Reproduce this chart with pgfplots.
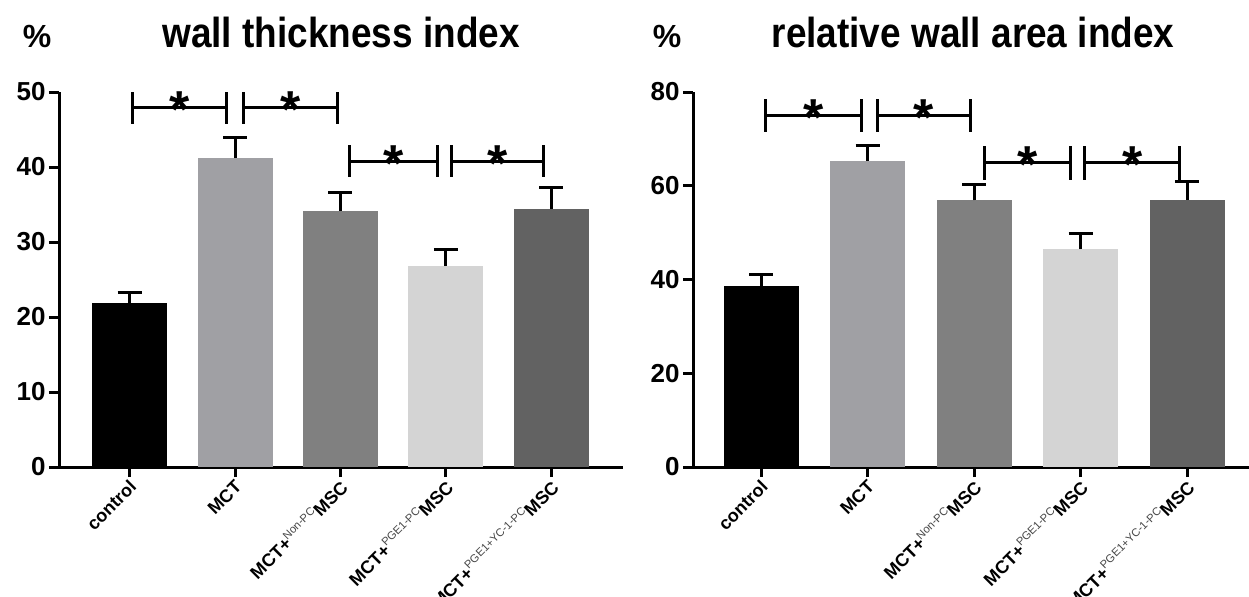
\documentclass[border=0pt]{standalone}
\usepackage{fontspec}
\setmainfont{Liberation Sans}
\newfontfamily\cf[FakeStretch=0.88]{Liberation Sans}
\usepackage{pgfplots}
\pgfplotsset{compat=1.18}

\definecolor{cMCT}{RGB}{160,160,164}
\definecolor{cNon}{RGB}{128,128,128}
\definecolor{cPGE}{RGB}{212,212,212}
\definecolor{cYC}{RGB}{98,98,98}
\definecolor{supgray}{RGB}{70,70,70}

\newcommand{\supx}[1]{\raisebox{0.8ex}{\fontsize{5.6}{6}\selectfont\mdseries\color{supgray}#1}}
\newcommand{\brk}[5]{%
  \draw[line width=1.5pt] (axis cs:#1,#4) -- (axis cs:#1,#5)
    (axis cs:#1,#3) -- (axis cs:#2,#3)
    (axis cs:#2,#4) -- (axis cs:#2,#5);
  \node[font=\bfseries\fontsize{26}{26}\selectfont, anchor=base, inner sep=0pt, yshift=-10.2pt]
    at (axis cs:{(#1+#2)/2},#3) {*};}

\tikzset{
  ttl/.style={anchor=base, font=\cf\bfseries\fontsize{21}{22}\selectfont, yshift=22.5pt},
  pct/.style={anchor=base, font=\bfseries\fontsize{16}{17}\selectfont, yshift=22.5pt},
}
\pgfplotsset{
  mystyle/.style={
    scale only axis, height=187.5pt,
    axis lines=left, axis line style={-, line width=1.5pt},
    ymin=0, enlargelimits=false, clip=false,
    xtick={0,...,4},
    xticklabels={control, MCT, MCT+\supx{Non-PC}MSC, MCT+\supx{PGE1-PC}MSC, MCT+\supx{PGE1+YC-1-PC}MSC},
    tick style={black, line width=1.5pt}, tick align=outside, major tick length=5pt,
    x tick label style={anchor=east, xshift=2.5pt, yshift=-2.5pt, rotate=45, font=\bfseries\fontsize{9}{10}\selectfont, inner sep=1pt},
    y tick label style={font=\bfseries\fontsize{13}{14}\selectfont, inner sep=1.5pt},
    /pgf/number format/assume math mode=true,
    ybar, bar width=37.5pt, bar shift=0pt,
    error bars/y dir=plus, error bars/y explicit,
    error bars/error bar style={line width=1.5pt, black},
    error bars/error mark options={rotate=90, mark size=6pt, line width=1.5pt, black},
  },
}

\begin{document}
\begin{tikzpicture}
\path[use as bounding box] (0,0) rectangle (624.5pt,298pt);

\begin{axis}[mystyle, at={(29.5pt,64.5pt)}, anchor=south west,
  width=282pt, xmin=-0.67, xmax=4.68, ymax=50, ytick={0,10,...,50}]
\addplot[fill=black, draw=none] coordinates {(0,21.9) +- (0,1.4)};
\addplot[fill=cMCT, draw=none] coordinates {(1,41.2) +- (0,2.8)};
\addplot[fill=cNon, draw=none] coordinates {(2,34.2) +- (0,2.4)};
\addplot[fill=cPGE, draw=none] coordinates {(3,26.8) +- (0,2.2)};
\addplot[fill=cYC, draw=none] coordinates {(4,34.4) +- (0,2.9)};
\brk{0.03}{0.92}{48.0}{50.0}{45.8}
\brk{1.08}{1.97}{48.0}{50.0}{45.8}
\brk{2.09}{2.92}{40.8}{42.9}{38.7}
\brk{3.05}{3.93}{40.8}{42.9}{38.7}
\node[ttl] at (rel axis cs:0.5,1) {wall thickness index};
\node[pct, xshift=-11pt] at (rel axis cs:0,1) {\%};
\end{axis}

\begin{axis}[mystyle, at={(346.5pt,64.5pt)}, anchor=south west,
  width=280pt, xmin=-0.64, xmax=4.62, ymax=80, ytick={0,20,...,80}]
\addplot[fill=black, draw=none] coordinates {(0,38.7) +- (0,2.4)};
\addplot[fill=cMCT, draw=none] coordinates {(1,65.3) +- (0,3.3)};
\addplot[fill=cNon, draw=none] coordinates {(2,56.9) +- (0,3.3)};
\addplot[fill=cPGE, draw=none] coordinates {(3,46.5) +- (0,3.3)};
\addplot[fill=cYC, draw=none] coordinates {(4,57.0) +- (0,3.9)};
\brk{0.04}{0.94}{75.0}{78.5}{71.4}
\brk{1.09}{1.97}{75.0}{78.5}{71.4}
\brk{2.10}{2.91}{65.0}{68.4}{61.3}
\brk{3.04}{3.93}{65.0}{68.4}{61.3}
\node[ttl] at (rel axis cs:0.5,1) {relative wall area index};
\node[pct, xshift=-13pt] at (rel axis cs:0,1) {\%};
\end{axis}
\end{tikzpicture}
\end{document}
